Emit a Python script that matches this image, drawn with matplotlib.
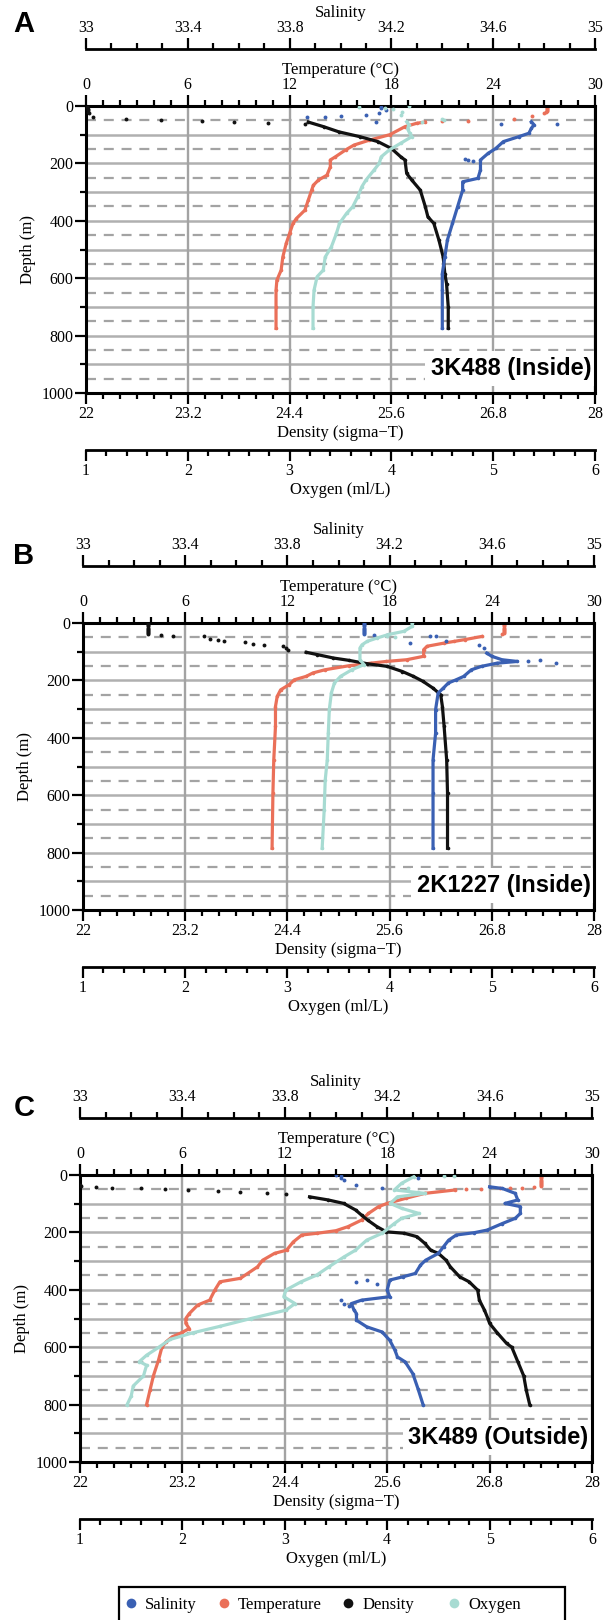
import numpy as np
import matplotlib
matplotlib.use("Agg")
import matplotlib.pyplot as plt
from matplotlib.lines import Line2D
from matplotlib.patches import Rectangle
from matplotlib.ticker import FixedLocator, FuncFormatter

plt.rcParams['font.family'] = ['Liberation Serif', 'DejaVu Serif']
SANS = ['Liberation Sans', 'DejaVu Sans']

C_SAL = '#3a60b3'
C_TMP = '#ea7059'
C_DEN = '#111111'
C_OXY = '#a7dbd2'

# ---------------- Panel A : 3K488 (Inside) ----------------
A_sal_z = [55, 65, 78, 95, 107, 124, 148, 165, 188, 223, 252, 264, 293, 351, 409, 467, 526, 584, 642, 775]
A_sal = [34.75, 34.76, 34.75, 34.74, 34.70, 34.64, 34.61, 34.58, 34.55, 34.55, 34.54, 34.48, 34.48,
         34.46, 34.44, 34.42, 34.41, 34.40, 34.40, 34.40]
A_sal_dz = [3, 8, 15, 26, 31, 35, 40, 37, 56, 63, 62, 188, 190, 185]
A_sal_dv = [34.16, 34.16, 34.18, 34.15, 34.10, 34.00, 33.94, 33.87, 34.14, 34.63, 34.85, 34.50, 34.52, 34.49]

A_tmp_z = [56, 60, 72, 100, 119, 136, 153, 177, 188, 212, 241, 258, 276, 293, 328, 363, 392, 409,
           444, 479, 526, 572, 607, 642, 700, 775]
A_tmp = [20.0, 19.5, 18.8, 17.9, 16.7, 15.8, 15.3, 14.7, 14.4, 14.4, 14.2, 13.7, 13.4, 13.3, 13.1,
         12.9, 12.4, 12.2, 12.0, 11.8, 11.6, 11.5, 11.25, 11.2, 11.2, 11.2]
A_tmp_dz = [2, 6, 10, 14, 18, 22, 26, 35, 46, 51, 54]
A_tmp_dv = [27.2, 27.2, 27.2, 27.2, 27.15, 27.1, 27.0, 26.3, 25.2, 22.5, 21.0]

A_den_z = [56, 72, 90, 107, 124, 148, 177, 188, 235, 258, 293, 351, 386, 409, 467, 526, 584, 619, 700, 775]
A_den = [24.62, 24.80, 24.98, 25.23, 25.44, 25.60, 25.71, 25.76, 25.78, 25.84, 25.94, 26.00, 26.03,
         26.10, 26.16, 26.21, 26.23, 26.25, 26.27, 26.27]
A_den_dz = [0, 5, 10, 15, 20, 25, 40, 45, 48, 53, 56, 59, 63]
A_den_dv = [22.01, 22.01, 22.02, 22.02, 22.02, 22.03, 22.08, 22.47, 22.88, 23.37, 23.75, 24.15, 24.58]

A_oxy_z = [55, 65, 80, 95, 107, 130, 153, 177, 200, 223, 258, 281, 316, 351, 374, 409, 444, 491,
           526, 572, 595, 642, 700, 775]
A_oxy = [4.15, 4.17, 4.16, 4.18, 4.20, 4.09, 3.98, 3.90, 3.88, 3.83, 3.75, 3.71, 3.67, 3.62, 3.56,
         3.49, 3.46, 3.41, 3.35, 3.33, 3.27, 3.24, 3.23, 3.23]
A_oxy_dz = [0, 5, 8, 12, 20, 30, 45, 50, 55]
A_oxy_dv = [4.17, 3.68, 3.94, 4.02, 4.10, 4.09, 4.50, 4.52, 4.30]

# ---------------- Panel B : 2K1227 (Inside) ----------------
B_sal_z = [105, 116, 128, 134, 140, 151, 163, 186, 198, 209, 227, 244, 302, 384, 477, 593, 785]
B_sal = [34.58, 34.60, 34.64, 34.70, 34.62, 34.56, 34.52, 34.49, 34.46, 34.43, 34.41, 34.39, 34.38,
         34.38, 34.37, 34.37, 34.37]
B_sal_dz = [0, 4, 8, 12, 16, 20, 24, 28, 32, 36, 40, 41, 41, 47, 47, 64, 70, 76, 87, 128, 134, 140]
B_sal_dv = [34.10, 34.10, 34.10, 34.10, 34.10, 34.10, 34.10, 34.10, 34.10, 34.10, 34.10, 34.14, 34.19,
            34.36, 34.38, 34.42, 34.28, 34.55, 34.57, 34.79, 34.74, 34.85]

B_tmp_z = [47, 58, 64, 70, 81, 93, 116, 128, 134, 140, 149, 163, 174, 186, 198, 215, 233, 256, 291,
           360, 477, 593, 785]
B_tmp = [23.4, 22.4, 21.8, 21.2, 20.2, 20.0, 20.0, 19.0, 17.8, 16.9, 15.6, 14.2, 13.5, 13.1, 12.4,
         12.1, 11.6, 11.4, 11.3, 11.3, 11.2, 11.15, 11.1]
B_tmp_dz = [0, 4, 8, 12, 16, 20, 24, 28, 32, 36, 40]
B_tmp_dv = [24.7, 24.7, 24.7, 24.7, 24.7, 24.7, 24.7, 24.7, 24.7, 24.7, 24.6]

B_den_z = [102, 110, 122, 130, 142, 151, 169, 186, 203, 227, 250, 291, 360, 477, 593, 785]
B_den = [24.62, 24.75, 24.94, 25.12, 25.34, 25.57, 25.75, 25.88, 25.99, 26.11, 26.20, 26.22, 26.24,
         26.27, 26.28, 26.28]
B_den_dz = [0, 4, 8, 12, 16, 20, 24, 28, 32, 36, 40, 41, 44, 47, 56, 60, 64, 67, 72, 76, 79, 86, 93]
B_den_dv = [22.76, 22.76, 22.76, 22.76, 22.76, 22.76, 22.76, 22.76, 22.76, 22.76, 22.76, 22.91, 23.06,
            23.42, 23.49, 23.58, 23.65, 23.90, 24.00, 24.12, 24.35, 24.38, 24.41]

B_oxy_z = [0, 12, 29, 40, 52, 64, 76, 87, 128, 145, 163, 186, 209, 244, 302, 384, 477, 547, 651, 785]
B_oxy = [4.22, 4.22, 4.14, 3.99, 3.88, 3.78, 3.73, 3.71, 3.71, 3.75, 3.63, 3.52, 3.46, 3.43, 3.41,
         3.40, 3.39, 3.37, 3.36, 3.34]
B_oxy_dz = [45, 48]
B_oxy_dv = [3.97, 4.05]

# ---------------- Panel C : 3K489 (Outside) ----------------
C_sal_z = [41, 47, 64, 87, 99, 110, 134, 151, 169, 192, 201, 209, 227, 250, 273, 297, 314, 343, 355,
           366, 401, 424, 436, 448, 470, 483, 506, 529, 547, 576, 610, 634, 651, 692, 744, 800]
C_sal = [34.60, 34.65, 34.70, 34.71, 34.66, 34.72, 34.72, 34.70, 34.65, 34.59, 34.54, 34.47, 34.44,
         34.42, 34.40, 34.35, 34.33, 34.31, 34.26, 34.21, 34.20, 34.21, 34.10, 34.06, 34.07, 34.08,
         34.08, 34.12, 34.18, 34.21, 34.23, 34.24, 34.27, 34.30, 34.32, 34.34]
C_sal_dz = [0, 5, 10, 17, 35, 47, 12, 372, 366, 380, 448, 436, 455]
C_sal_dv = [34.00, 34.02, 34.02, 34.03, 34.08, 34.18, 34.32, 34.08, 34.12, 34.16, 34.03, 34.02, 34.05]

C_tmp_z = [52, 64, 81, 99, 110, 134, 157, 180, 194, 203, 209, 233, 262, 273, 297, 320, 360, 372, 401,
           436, 453, 483, 500, 517, 535, 548, 564, 581, 600, 645, 700, 750, 800]
C_tmp = [22.0, 20.2, 19.1, 18.0, 17.5, 16.9, 16.5, 15.7, 15.0, 13.9, 13.0, 12.5, 12.1, 11.4, 10.7,
         10.4, 9.4, 8.2, 7.9, 7.6, 6.9, 6.4, 6.2, 6.2, 6.4, 6.0, 5.4, 5.05, 4.8, 4.6, 4.3, 4.1, 3.9]
C_tmp_dz = [0, 4, 8, 12, 16, 20, 24, 28, 32, 36, 40, 43, 45, 46, 47, 48, 50]
C_tmp_dv = [27.0, 27.0, 27.0, 27.0, 27.0, 27.0, 27.0, 27.0, 27.0, 27.0, 27.0, 26.6, 25.9, 25.2,
            24.6, 23.5, 22.6]

C_den_z = [76, 87, 99, 122, 140, 157, 180, 198, 203, 215, 238, 262, 273, 297, 320, 355, 372, 401,
           436, 471, 500, 517, 550, 587, 600, 650, 700, 750, 800]
C_den = [24.69, 24.91, 25.09, 25.23, 25.30, 25.37, 25.48, 25.59, 25.80, 25.95, 26.04, 26.11, 26.20,
         26.29, 26.34, 26.45, 26.56, 26.66, 26.68, 26.74, 26.78, 26.80, 26.89, 27.00, 27.06, 27.13,
         27.20, 27.23, 27.27]
C_den_dz = [35, 38, 41, 44, 47, 50, 52, 56, 58, 62, 67]
C_den_dv = [22.00, 22.01, 22.19, 22.38, 22.72, 23.00, 23.26, 23.62, 23.87, 24.19, 24.41]

C_oxy_z = [6, 29, 52, 64, 76, 99, 116, 134, 151, 169, 203, 227, 262, 285, 320, 349, 372, 401, 424,
           448, 471, 500, 527, 550, 573, 600, 628, 650, 663, 700, 735, 770, 800]
C_oxy = [4.26, 4.14, 4.07, 4.37, 4.10, 4.03, 4.14, 4.31, 4.14, 4.07, 3.95, 3.80, 3.69, 3.58, 3.43,
         3.31, 3.16, 3.01, 2.99, 3.10, 3.01, 2.67, 2.37, 2.10, 1.88, 1.77, 1.65, 1.58, 1.65, 1.62,
         1.52, 1.50, 1.46]
C_oxy_dz = [2, 4, 45, 60]
C_oxy_dv = [4.55, 4.65, 4.20, 4.30]

# figure pixel layout (width 605, height 1620)
W, H = 605, 1620
# letter, station, left, right, top, bottom, letter y
PANELS = [
    ('A', '3K488 (Inside)', 86, 595, 106, 393, 24),
    ('B', '2K1227 (Inside)', 83, 594, 623, 910, 556),
    ('C', '3K489 (Outside)', 80, 592, 1175, 1462, 1108),
]


def fmt(v, pos):
    return f"{v:.1f}".rstrip('0').rstrip('.')


def scale_axis(a, lo, hi, nminor, side, offset, label):
    a.set_xlim(lo, hi)
    a.xaxis.set_major_locator(FixedLocator(np.linspace(lo, hi, 6)))
    a.xaxis.set_minor_locator(FixedLocator(np.linspace(lo, hi, 5 * nminor + 1)))
    a.xaxis.set_major_formatter(FuncFormatter(fmt))
    a.xaxis.set_ticks_position(side)
    a.xaxis.set_label_position(side)
    for s in a.spines.values():
        s.set_visible(False)
    a.spines[side].set_visible(True)
    a.spines[side].set_linewidth(2)
    if offset:
        a.spines[side].set_position(('outward', offset))
    a.tick_params(axis='x', which='major', direction='out', length=8, width=1.6,
                  labelsize=11.5, pad=1.5)
    a.tick_params(axis='x', which='minor', direction='out', length=4.5, width=1.6)
    a.set_xlabel(label, fontsize=12, labelpad=2)


def profile(a, z, v, dz, dv, color):
    a.plot(v, z, '-o', color=color, lw=2.3, ms=2.6, mew=0)
    a.plot(dv, dz, 'o', color=color, ms=2.8, mew=0, ls='none')


fig = plt.figure(figsize=(W / 100, H / 100), dpi=100)

data = [
    (A_sal_z, A_sal, A_sal_dz, A_sal_dv, A_tmp_z, A_tmp, A_tmp_dz, A_tmp_dv,
     A_den_z, A_den, A_den_dz, A_den_dv, A_oxy_z, A_oxy, A_oxy_dz, A_oxy_dv),
    (B_sal_z, B_sal, B_sal_dz, B_sal_dv, B_tmp_z, B_tmp, B_tmp_dz, B_tmp_dv,
     B_den_z, B_den, B_den_dz, B_den_dv, B_oxy_z, B_oxy, B_oxy_dz, B_oxy_dv),
    (C_sal_z, C_sal, C_sal_dz, C_sal_dv, C_tmp_z, C_tmp, C_tmp_dz, C_tmp_dv,
     C_den_z, C_den, C_den_dz, C_den_dv, C_oxy_z, C_oxy, C_oxy_dz, C_oxy_dv),
]

for (letter, name, x0, x1, y0, y1, ly), d in zip(PANELS, data):
    rect = [x0 / W, 1 - y1 / H, (x1 - x0) / W, (y1 - y0) / H]
    ax = fig.add_axes(rect)
    axd = ax.twiny()
    axs = ax.twiny()
    axo = ax.twiny()

    # temperature (main, top) + depth
    ax.set_ylim(1000, 0)
    scale_axis(ax, 0, 30, 6, 'top', 0, 'Temperature (°C)')
    for s in ax.spines.values():
        s.set_visible(True)
        s.set_linewidth(2.2)
    ax.yaxis.set_major_locator(FixedLocator(np.arange(0, 1001, 200)))
    ax.yaxis.set_minor_locator(FixedLocator(np.arange(0, 1001, 100)))
    ax.tick_params(axis='y', which='major', direction='out', length=8, width=1.6,
                   labelsize=11.5, pad=1)
    ax.tick_params(axis='y', which='minor', direction='out', length=4.5, width=1.6)
    ax.set_ylabel('Depth (m)', fontsize=12, labelpad=4)

    ax.grid(axis='x', which='major', color='#a3a3a3', lw=1.7)
    ax.hlines(np.arange(100, 1000, 100), 0, 30, colors='#b0b0b0', lw=1.8, zorder=1.5)
    ax.hlines(np.arange(50, 1000, 100), 0, 30, colors='#a3a3a3', lw=1.6,
              linestyles=(0, (4.5, 3.5)), zorder=1.5)

    scale_axis(axd, 22, 28, 6, 'bottom', 0, 'Density (sigma\u2212T)')
    scale_axis(axs, 33, 35, 4, 'top', 41, 'Salinity')
    scale_axis(axo, 1, 6, 5, 'bottom', 41, 'Oxygen (ml/L)')

    (sz, sv, sdz, sdv, tz, tv, tdz, tdv, dz_, dv_, ddz, ddv, oz, ov, odz, odv) = d
    profile(ax, tz, tv, tdz, tdv, C_TMP)
    profile(axo, oz, ov, odz, odv, C_OXY)
    profile(axs, sz, sv, sdz, sdv, C_SAL)
    profile(axd, dz_, dv_, ddz, ddv, C_DEN)

    ax.text(0.993, 0.085, name, transform=ax.transAxes, ha='right', va='center',
            fontsize=17, fontweight='bold', family=SANS,
            bbox=dict(fc='white', ec='none', pad=4), zorder=2.2)

    fig.text(24 / W, 1 - ly / H, letter, ha='center', va='center',
             fontsize=21, fontweight='bold', family=SANS)

handles = [
    Line2D([], [], marker='o', ls='none', color=C_SAL, ms=7, mew=0, label='Salinity'),
    Line2D([], [], marker='o', ls='none', color=C_TMP, ms=7, mew=0, label='Temperature'),
    Line2D([], [], marker='o', ls='none', color=C_DEN, ms=7, mew=0, label='Density'),
    Line2D([], [], marker='o', ls='none', color=C_OXY, ms=7, mew=0, label='Oxygen'),
]
leg_kw = dict(loc='upper left', fontsize=12, frameon=False, borderaxespad=0, borderpad=0,
              handlelength=0.6, handletextpad=0.55, columnspacing=1.3)
fig.legend(handles=handles[:3], ncol=3, bbox_to_anchor=(126 / W, 1 - 1597 / H), **leg_kw)
fig.legend(handles=handles[3:], ncol=1, bbox_to_anchor=(449 / W, 1 - 1597 / H), **leg_kw)
# legend box (runs off the bottom edge as in the original)
fig.patches.append(Rectangle((119 / W, -0.01), (565 - 119) / W, 0.01 + (1620 - 1587) / H,
                             transform=fig.transFigure, fill=False, ec='black', lw=1.6))

fig.savefig('out.png', dpi=100)
